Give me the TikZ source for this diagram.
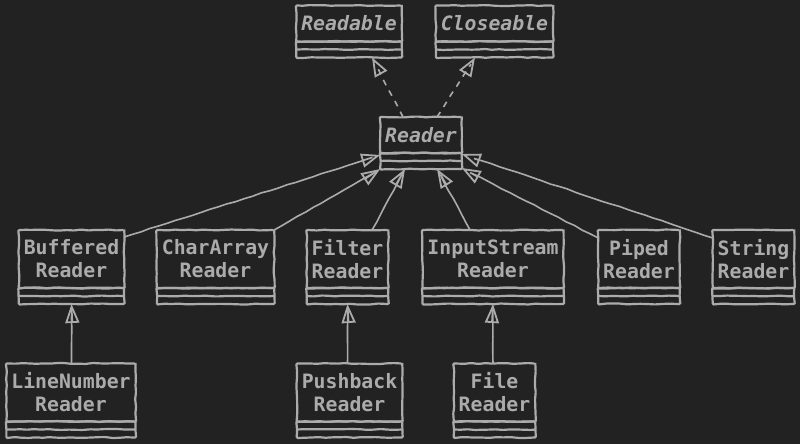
\documentclass[tikz,border=0pt]{standalone}
\usepackage{fontspec}
\setmonofont{DejaVu Sans Mono}
\usetikzlibrary{arrows.meta,positioning,fit,decorations.pathmorphing}
\definecolor{canvas}{HTML}{222222}
\definecolor{ink}{HTML}{ABABAB}
\tikzset{
  sketch/.style={decorate,decoration={random steps,segment length=7pt,amplitude=0.5pt},rounded corners=1pt},
  class_head/.style={draw=ink,line width=2.2pt,sketch,inner xsep=5pt,inner ysep=0pt,outer sep=0pt,
    minimum height=36pt,font=\fontsize{19.8}{23}\selectfont\ttfamily\bfseries,text=ink,align=center},
  class_two/.style={class_head,minimum height=58pt},
  abstract/.style={font=\fontsize{19.8}{23}\selectfont\ttfamily\bfseries\itshape},
  class_ops/.style={draw=ink,line width=2.2pt,sketch,inner sep=0pt,outer sep=0pt},
  box_line/.style={draw=ink,line width=2.2pt,sketch},
  arr_ext/.style={-{Triangle[open,length=19pt,width=14pt,line width=1.8pt]},draw=ink,line width=1.6pt,
    decorate,decoration={random steps,segment length=9pt,amplitude=0.4pt}},
  arr_impl/.style={arr_ext,dash pattern=on 6pt off 6pt},
}
\begin{document}
\begin{tikzpicture}[x=1pt,y=-1pt]
  \fill[canvas] (0,0) rectangle (800,444);
  \useasboundingbox (0,0) rectangle (800,444);
  % interfaces and the abstract base
  \node[class_head,abstract] (readable) at (349,23.5) {Readable};
  \node[class_head,abstract] (closeable) at (494.5,23.5) {Closeable};
  \node[class_head,abstract] (reader) at (421,135) {Reader};
  % direct subclasses
  \node[class_two] (buffered) at (71.5,259) {Buffered\\Reader};
  \node[class_two] (chararray) at (215.5,259) {CharArray\\Reader};
  \node[class_two] (filter) at (347.5,259) {Filter\\Reader};
  \node[class_two] (inputstream) at (493,259) {InputStream\\Reader};
  \node[class_two] (piped) at (639,259) {Piped\\Reader};
  \node[class_two] (string) at (753.5,259) {String\\Reader};
  % second level
  \node[class_two] (linenumber) at (71,392.5) {LineNumber\\Reader};
  \node[class_two] (pushback) at (349.5,392.5) {Pushback\\Reader};
  \node[class_two] (file) at (494.5,392.5) {File\\Reader};
  % empty field and method compartments
  \foreach \n in {readable,closeable,reader,buffered,chararray,filter,inputstream,piped,string,linenumber,pushback,file}{
    \node[class_ops,fit={(\n.south west)([yshift=-16pt]\n.south east)}] (\n-ops) {};
    \draw[box_line] ([yshift=-8pt]\n.south west) -- ([yshift=-8pt]\n.south east);
  }
  \draw[arr_impl]([xshift=-18pt]reader.north)--([xshift=23pt]readable-ops.south);
  \draw[arr_impl]([xshift=16pt]reader.north)--([xshift=-19.5pt]closeable-ops.south);
  \draw[arr_ext]([yshift=-7pt]buffered.north east)--([yshift=-2pt]reader-ops.north west);
  \draw[arr_ext](chararray.north east)--(reader-ops.south west);
  \draw[arr_ext]([xshift=24.5pt]filter.north)--([xshift=-16pt]reader-ops.south);
  \draw[arr_ext]([xshift=-23pt]inputstream.north)--([xshift=16pt]reader-ops.south);
  \draw[arr_ext]([yshift=-8pt]piped.north west)--([yshift=1pt]reader-ops.south east);
  \draw[arr_ext]([yshift=-8pt]string.north west)--([yshift=-1pt]reader-ops.north east);
  \draw[arr_ext](buffered-ops.south |- linenumber.north)--(buffered-ops.south);
  \draw[arr_ext](filter-ops.south |- pushback.north)--(filter-ops.south);
  \draw[arr_ext](inputstream-ops.south |- file.north)--(inputstream-ops.south);
\end{tikzpicture}
\end{document}
